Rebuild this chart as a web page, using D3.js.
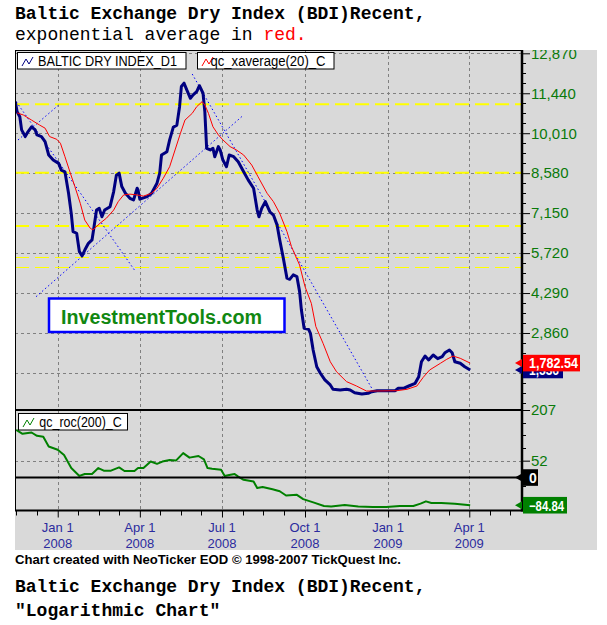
<!DOCTYPE html>
<html><head><meta charset="utf-8">
<script src="https://cdn.jsdelivr.net/npm/d3@7"></script>
<style>
html,body{margin:0;padding:0;background:#fff;}
svg{display:block;}
</style></head><body>
<svg id="c" width="607" height="625"></svg>
<script>
// ---------------- DATA ----------------
const bdiDates = ["2007-11-15","2007-11-17","2007-11-20","2007-11-22","2007-11-26","2007-11-29","2007-12-03","2007-12-07","2007-12-09","2007-12-14",
"2007-12-18","2007-12-22","2007-12-27","2008-01-02","2008-01-05","2008-01-09","2008-01-13","2008-01-16","2008-01-18","2008-01-22",
"2008-01-25","2008-01-28","2008-01-31","2008-02-04","2008-02-08","2008-02-10","2008-02-13","2008-02-16","2008-02-19","2008-02-22",
"2008-02-28","2008-03-03","2008-03-06","2008-03-09","2008-03-12","2008-03-16","2008-03-21","2008-03-25","2008-03-29","2008-03-30",
"2008-04-01","2008-04-09","2008-04-14","2008-04-20","2008-04-23","2008-04-25","2008-05-01","2008-05-04","2008-05-08","2008-05-12",
"2008-05-15","2008-05-17","2008-05-20","2008-05-23","2008-05-27","2008-05-30","2008-06-03","2008-06-06","2008-06-10","2008-06-12",
"2008-06-14","2008-06-18","2008-06-21","2008-06-23","2008-06-27","2008-06-29","2008-07-02","2008-07-06","2008-07-09","2008-07-14",
"2008-07-19","2008-07-25","2008-07-30","2008-08-05","2008-08-09","2008-08-11","2008-08-14","2008-08-18","2008-08-23","2008-08-27",
"2008-08-31","2008-09-03","2008-09-07","2008-09-11","2008-09-14","2008-09-18","2008-09-22","2008-09-25","2008-09-27","2008-09-30",
"2008-10-05","2008-10-07","2008-10-10","2008-10-14","2008-10-18","2008-10-23","2008-10-29","2008-11-01","2008-11-09","2008-11-16",
"2008-11-20","2008-11-25","2008-12-03","2008-12-10","2008-12-14","2008-12-20","2008-12-27","2009-01-09","2009-01-12","2009-01-18",
"2009-01-24","2009-01-31","2009-02-04","2009-02-07","2009-02-11","2009-02-15","2009-02-20","2009-02-25","2009-03-02","2009-03-05",
"2009-03-10","2009-03-13","2009-03-16","2009-03-22","2009-03-27","2009-04-02"];
const bdiValues = [11140,10780,10600,10130,9890,10060,10240,10130,9950,9890,
9710,9230,9050,8930,8690,8630,7860,7140,6490,6430,
5770,5620,5830,6070,6190,6610,7260,7320,7020,7260,
7380,7920,8510,8580,8100,7860,7680,7620,8040,7980,
7650,7740,7860,8220,8580,9230,9350,9770,10220,10300,
10960,11680,11800,11560,11260,11380,11500,11710,11440,10780,
9470,9410,9470,9170,9530,9410,9050,8810,9230,9170,
8990,8630,8340,8040,7260,7020,7320,7560,7200,7080,
6730,6190,5530,4820,4780,4940,4880,4340,3680,3030,
2990,2850,2250,1650,1420,1180,1000,845,820,845,
820,723,676,701,759,795,795,795,880,880,
963,1059,1296,1832,2036,1893,2072,1940,2011,2154,
2251,2154,1832,1775,1653,1536];

const emaDates = ["2007-11-17","2007-11-24","2007-12-03","2007-12-12","2007-12-18","2007-12-23","2007-12-31","2008-01-04","2008-01-09","2008-01-15",
"2008-01-20","2008-01-26","2008-01-31","2008-02-06","2008-02-09","2008-02-17","2008-02-24","2008-03-03","2008-03-08","2008-03-14",
"2008-03-21","2008-03-29","2008-04-05","2008-04-14","2008-04-20","2008-04-27","2008-05-04","2008-05-10","2008-05-16","2008-05-21",
"2008-05-29","2008-06-03","2008-06-09","2008-06-12","2008-06-16","2008-06-21","2008-06-27","2008-07-02","2008-07-10","2008-07-17",
"2008-07-25","2008-08-03","2008-08-10","2008-08-20","2008-08-27","2008-09-03","2008-09-11","2008-09-16","2008-09-25","2008-10-01",
"2008-10-08","2008-10-13","2008-10-21","2008-10-29","2008-11-05","2008-11-16","2008-11-27","2008-12-08","2008-12-19","2009-01-11",
"2009-01-22","2009-02-02","2009-02-09","2009-02-16","2009-02-28","2009-03-07","2009-03-14","2009-03-22","2009-04-02"];
const emaValues = [10740,10660,10480,10300,10190,9890,9790,9650,9170,8580,
8100,7500,6900,6610,6550,6790,6970,7260,7560,7800,
7830,7800,7760,7860,8040,8400,8810,9410,10010,10480,
10720,10960,11140,11020,10720,10240,9950,9770,9530,9410,
9230,8870,8450,7860,7560,7140,6490,5950,5290,4520,
3920,3090,2490,1830,1470,1120,963,784,784,795,
845,963,1274,1535,1775,1918,2036,1954,1782.54];

const rocDates = ["2007-11-16","2007-11-23","2007-12-03","2007-12-09","2007-12-16","2007-12-22","2008-01-01","2008-01-08","2008-01-16","2008-01-25",
"2008-01-31","2008-02-08","2008-02-15","2008-02-21","2008-02-29","2008-03-09","2008-03-15","2008-03-26","2008-03-30","2008-04-05",
"2008-04-13","2008-04-20","2008-04-26","2008-05-04","2008-05-11","2008-05-19","2008-05-26","2008-06-05","2008-06-11","2008-06-15",
"2008-06-20","2008-06-30","2008-07-04","2008-07-09","2008-07-15","2008-07-19","2008-07-25","2008-08-05","2008-08-09","2008-08-15",
"2008-08-26","2008-09-03","2008-09-10","2008-09-22","2008-09-29","2008-10-11","2008-10-22","2008-10-30","2008-11-14","2008-11-29",
"2008-12-15","2008-12-30","2009-01-14","2009-01-29","2009-02-06","2009-02-12","2009-02-18","2009-03-01","2009-03-16","2009-04-02"];
const rocValues = [146,134,138,128,125,95,85,69,29,5,
11,11,29,21,21,31,20,20,29,29,
49,42,49,54,52,75,61,66,56,29,
27,24,5,8,11,3,-7,-12,-32,-29,
-36,-42,-55,-53,-66,-77,-87,-89,-84,-89,
-90,-90,-87,-87,-80,-73,-78,-78,-80,-84.84];

const priceTicks = [2860,4290,5720,7150,8580,10010,11440,12870];
const priceGrid = [1430,2860,4290,5720,7150,8580,10010,11440,12870];
const priceMinorStep = 357.5;
const rocTicks = [51.75,207];
const rocGrid = [51.75];
const rocMinor = [168.2,129.4,90.6,12.9,-25.9,-64.7];
const xTickDates = ["2008-01-01","2008-04-01","2008-07-01","2008-10-01","2009-01-01","2009-04-01"];
const xTickMonth = ["Jan 1","Apr 1","Jul 1","Oct 1","Jan 1","Apr 1"];
const xTickYear = ["2008","2008","2008","2008","2009","2009"];
const quarterAnchors = ["2007-10-01","2008-01-01","2008-04-01","2008-07-01","2008-10-01","2009-01-01","2009-04-01","2009-07-01"];
const supportLevels = [11045,8597,6689];
const minorLevels = [5569,5211];
const trendStart = [["2007-11-16",11138],["2007-11-18",9767],["2007-12-08",4159],["2008-05-29",12129]];
const trendEnd   = [["2008-03-26",5114],["2008-01-02",11020],["2008-07-25",10662],["2008-12-14",880]];

// ---------------- SETUP ----------------
const parse = d3.utcParse("%Y-%m-%d");
const svg = d3.select("#c");
const X0 = 15, X1 = 522, TOP = 50, SEP = 410, BOT = 510.5;
const FONT = "'Liberation Sans', Arial, sans-serif";
const MONO = "'Liberation Mono', 'Courier New', monospace";

const x = d3.scaleUtc()
  .domain([new Date(Date.UTC(2007,10,14,16)), new Date(Date.UTC(2009,4,29,10))])
  .range([X0, X1]);
const yP = d3.scaleLinear().domain([104, 12988]).range([SEP, TOP]);
const yR = d3.scaleLinear().domain([-101, 207]).range([BOT, SEP]);

const bdi = bdiDates.map((d,i)=>({date:parse(d), v:bdiValues[i]}));
const ema = emaDates.map((d,i)=>({date:parse(d), v:emaValues[i]}));
const roc = rocDates.map((d,i)=>({date:parse(d), v:rocValues[i]}));

// titles
svg.append("text").attr("x",15).attr("y",19).attr("font-family",MONO).attr("font-weight","bold")
  .attr("font-size",18).attr("fill","#000").text("Baltic Exchange Dry Index (BDI)Recent,");
const t2 = svg.append("text").attr("x",15).attr("y",40).attr("font-family",MONO)
  .attr("font-size",18).attr("fill","#000");
t2.append("tspan").text("exponential average in ");
t2.append("tspan").attr("fill","#ff0000").text("red.");

// background
svg.append("rect").attr("x",15).attr("y",TOP).attr("width",597-15).attr("height",550-TOP).attr("fill","#d9d9d9");

const defs = svg.append("defs");
defs.append("clipPath").attr("id","clipTop").append("rect").attr("x",X0).attr("y",TOP).attr("width",X1-X0).attr("height",SEP-TOP);
defs.append("clipPath").attr("id","clipLow").append("rect").attr("x",X0).attr("y",SEP).attr("width",X1-X0).attr("height",BOT-SEP);
defs.append("clipPath").attr("id","clipAxis").append("rect").attr("x",X1).attr("y",TOP).attr("width",80).attr("height",BOT-TOP+5);

// gridlines
const grid = svg.append("g").attr("stroke","#808080").attr("stroke-width",1).attr("stroke-dasharray","3,3");
xTickDates.forEach(d=>{
  const xx = Math.round(x(parse(d)))+0.5;
  grid.append("line").attr("x1",xx).attr("x2",xx).attr("y1",TOP).attr("y2",BOT);
});
priceGrid.forEach(v=>{
  const yy = Math.round(yP(v))+0.5;
  grid.append("line").attr("x1",X0).attr("x2",X1).attr("y1",yy).attr("y2",yy);
});
rocGrid.forEach(v=>{
  const yy = Math.round(yR(v))+0.5;
  grid.append("line").attr("x1",X0).attr("x2",X1).attr("y1",yy).attr("y2",yy);
});

// top panel
const topG = svg.append("g").attr("clip-path","url(#clipTop)");
supportLevels.forEach(v=>{
  topG.append("line").attr("x1",X0).attr("x2",X1).attr("y1",yP(v)).attr("y2",yP(v))
    .attr("stroke","#ffff00").attr("stroke-width",2).attr("stroke-dasharray","14,6");
});
minorLevels.forEach(v=>{
  const yy = Math.round(yP(v))+0.5;
  topG.append("line").attr("x1",X0).attr("x2",X1).attr("y1",yy).attr("y2",yy)
    .attr("stroke","#ffff00").attr("stroke-width",1).attr("stroke-dasharray","14,6");
});
trendStart.forEach((s,i)=>{
  const e = trendEnd[i];
  topG.append("line").attr("x1",x(parse(s[0]))).attr("y1",yP(s[1])).attr("x2",x(parse(e[0]))).attr("y2",yP(e[1]))
    .attr("stroke","#0000ff").attr("stroke-width",1).attr("stroke-dasharray","1.5,2.5");
});
const lineP = d3.line().x(d=>x(d.date)).y(d=>yP(d.v));
topG.append("path").datum(bdi).attr("d",lineP).attr("fill","none").attr("stroke","#000080")
  .attr("stroke-width",3).attr("stroke-linejoin","round");
topG.append("path").datum(ema).attr("d",lineP).attr("fill","none").attr("stroke","#ff0000")
  .attr("stroke-width",1);

// lower panel
const lowG = svg.append("g").attr("clip-path","url(#clipLow)");
const lineR = d3.line().x(d=>x(d.date)).y(d=>yR(d.v));
lowG.append("path").datum(roc).attr("d",lineR).attr("fill","none").attr("stroke","#008000")
  .attr("stroke-width",2).attr("stroke-linejoin","round");

// frame lines
const fr = svg.append("g").attr("stroke","#000");
fr.append("line").attr("x1",X0).attr("x2",X1).attr("y1",TOP+0.5).attr("y2",TOP+0.5).attr("stroke-width",1);
fr.append("line").attr("x1",X0+0.5).attr("x2",X0+0.5).attr("y1",TOP).attr("y2",BOT).attr("stroke-width",1);
fr.append("line").attr("x1",X0).attr("x2",X1).attr("y1",SEP).attr("y2",SEP).attr("stroke-width",2);
fr.append("line").attr("x1",X0).attr("x2",X1).attr("y1",yR(0)).attr("y2",yR(0)).attr("stroke-width",2);
fr.append("line").attr("x1",X0).attr("x2",X1+1).attr("y1",BOT).attr("y2",BOT).attr("stroke-width",2);
fr.append("line").attr("x1",X1).attr("x2",X1).attr("y1",TOP).attr("y2",BOT+1).attr("stroke-width",2.5);

// right axis top panel
const axG = svg.append("g").attr("clip-path","url(#clipAxis)");
const aTop = axG.append("g").attr("transform",`translate(${X1},0)`)
  .call(d3.axisRight(yP).tickValues(priceTicks).tickSize(8).tickPadding(1).tickFormat(d3.format(",")));
aTop.select(".domain").remove();
aTop.selectAll(".tick line").attr("stroke","#000").attr("stroke-width",1);
aTop.selectAll(".tick text").attr("font-family",FONT).attr("font-size",15).attr("fill","#0a7a0a");
const minorP = d3.range(priceMinorStep, 12988, priceMinorStep).filter(v=>Math.abs(v/1430 - Math.round(v/1430))>0.01);
axG.selectAll(".mp").data(minorP).join("line").attr("x1",X1).attr("x2",X1+4)
  .attr("y1",d=>Math.round(yP(d))+0.5).attr("y2",d=>Math.round(yP(d))+0.5).attr("stroke","#000");

// right axis lower panel
const aLow = axG.append("g").attr("transform",`translate(${X1},0)`)
  .call(d3.axisRight(yR).tickValues(rocTicks).tickSize(8).tickPadding(1).tickFormat(d3.format(".0f")));
aLow.select(".domain").remove();
aLow.selectAll(".tick line").attr("stroke","#000").attr("stroke-width",1);
aLow.selectAll(".tick text").attr("font-family",FONT).attr("font-size",15).attr("fill","#0a7a0a");
axG.selectAll(".mr").data(rocMinor).join("line").attr("x1",X1).attr("x2",X1+4)
  .attr("y1",d=>Math.round(yR(d))+0.5).attr("y2",d=>Math.round(yR(d))+0.5).attr("stroke","#000");

// x axis ticks
const aX = svg.append("g").attr("transform",`translate(0,${BOT})`)
  .call(d3.axisBottom(x).tickValues(xTickDates.map(parse)).tickSize(7).tickFormat(""));
aX.select(".domain").remove();
aX.selectAll(".tick line").attr("stroke","#000");
const minorX = [];
for (let i=0;i<quarterAnchors.length-1;i++){
  const a = parse(quarterAnchors[i]).getTime(), b = parse(quarterAnchors[i+1]).getTime();
  for (let k=1;k<4;k++) minorX.push(new Date(a + (b-a)*k/4));
}
const minorXAll = minorX.filter(d=>x(d)>=X0-0.5 && x(d)<=X1);
svg.append("g").selectAll("line").data(minorXAll).join("line")
  .attr("x1",d=>Math.round(x(d))+0.5).attr("x2",d=>Math.round(x(d))+0.5)
  .attr("y1",BOT).attr("y2",BOT+5).attr("stroke","#000");

const xl = svg.append("g").attr("font-family",FONT).attr("font-size",13).attr("fill","#2b2b9e").attr("text-anchor","middle");
xTickDates.forEach((d,i)=>{
  const xx = x(parse(d));
  xl.append("text").attr("x",xx).attr("y",532).text(xTickMonth[i]);
  xl.append("text").attr("x",xx).attr("y",548).text(xTickYear[i]);
});

// legends
function legend(bx, by, bw, bh, color, label, tx, tlen) {
  const g = svg.append("g");
  g.append("rect").attr("x",bx+0.5).attr("y",by+0.5).attr("width",bw).attr("height",bh)
    .attr("fill","#fff").attr("stroke","#000").attr("stroke-width",1);
  const ix = bx+5, iy = by+3;
  g.append("path").attr("d",`M${ix},${iy+11}L${ix+4},${iy+4}L${ix+7},${iy+9}L${ix+11},${iy+2}`)
    .attr("fill","none").attr("stroke",color).attr("stroke-width",1);
  g.append("text").attr("x",tx).attr("y",by+bh-3).attr("font-family",FONT).attr("font-size",14)
    .attr("fill","#000").attr("textLength",tlen).attr("lengthAdjust","spacingAndGlyphs").text(label);
}
legend(17,52,168.5,16.5,"#000080","BALTIC DRY INDEX_D1",38,139);
legend(197,52,136.5,16.5,"#ff0000","qc_xaverage(20)_C",210.5,115);
legend(18,413,109,16.5,"#008000","qc_roc(200)_C",39.3,82.5);

// InvestmentTools box
svg.append("rect").attr("x",49).attr("y",298.5).attr("width",235.5).attr("height",33.5)
  .attr("fill","#fff").attr("stroke","#0000ff").attr("stroke-width",2.5);
svg.append("text").attr("x",61).attr("y",323.5).attr("font-family",FONT).attr("font-weight","bold")
  .attr("font-size",20).attr("fill","#118811").attr("textLength",201).attr("lengthAdjust","spacingAndGlyphs")
  .text("InvestmentTools.com");

// value tags
function tag(yy, fill, text, w, tlen) {
  const g = svg.append("g");
  g.append("path").attr("d",`M515,${yy}L522,${yy-4}L522,${yy+4}Z`).attr("fill",fill);
  g.append("rect").attr("x",523).attr("y",yy-8.3).attr("width",w).attr("height",16.6).attr("fill",fill);
  const t = g.append("text").attr("x",529).attr("y",yy+5.3).attr("font-family",FONT).attr("font-weight","bold")
    .attr("font-size",14).attr("fill","#fff").text(text);
  if (tlen) t.attr("textLength",tlen).attr("lengthAdjust","spacingAndGlyphs");
}
const fmt2 = d3.format(",.2f"), fmt0 = d3.format(",");
const lastB = bdiValues[bdiValues.length-1], lastE = emaValues[emaValues.length-1], lastR = rocValues[rocValues.length-1];
tag(yP(lastB), "#000080", fmt0(lastB), 40, 30);
tag(yP(lastE), "#ff0000", fmt2(lastE), 57, 49);
tag(yR(0), "#000000", "0", 15, null);
tag(yR(lastR), "#008000", d3.format(".2f")(lastR), 44, 35);

// footer texts
svg.append("text").attr("x",15).attr("y",564).attr("font-family",FONT).attr("font-size",13.5)
  .attr("font-weight","bold").attr("fill","#000").attr("textLength",386).attr("lengthAdjust","spacingAndGlyphs")
  .text("Chart created with NeoTicker EOD \u00a9 1998-2007 TickQuest Inc.");
svg.append("text").attr("x",15).attr("y",592).attr("font-family",MONO).attr("font-weight","bold")
  .attr("font-size",18).attr("fill","#000").text("Baltic Exchange Dry Index (BDI)Recent,");
svg.append("text").attr("x",15).attr("y",616).attr("font-family",MONO).attr("font-weight","bold")
  .attr("font-size",18).attr("fill","#000").text("\"Logarithmic Chart\"");
</script>
</body></html>
